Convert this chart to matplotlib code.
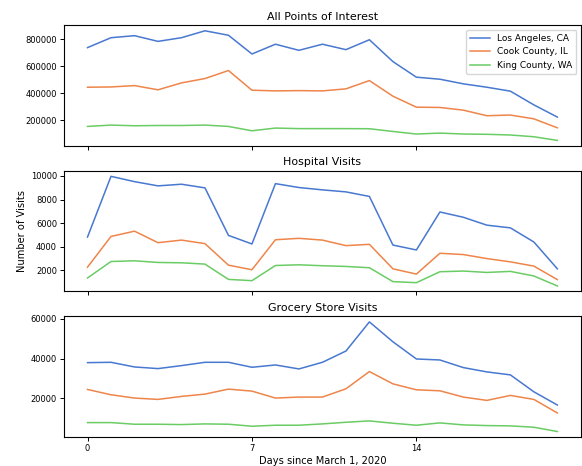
import numpy as np
import matplotlib
matplotlib.use("Agg")
import matplotlib.pyplot as plt
from matplotlib.ticker import MultipleLocator

days = list(range(21))
regions = ["Los Angeles, CA", "Cook County, IL", "King County, WA"]
colors = ["#4878d0", "#ee854a", "#6acc64"]

# all points of interest
poi_la = [737000, 810000, 825000, 783000, 810000, 861000, 828000, 690000, 762000, 717000, 762000,
          722000, 795000, 634000, 519000, 504000, 470000, 445000, 416000, 315000, 225000]
poi_cook = [445000, 447000, 457000, 426000, 477000, 509000, 568000, 423000, 418000, 420000, 418000,
            433000, 494000, 379000, 298000, 296000, 276000, 235000, 240000, 212000, 146000]
poi_king = [156000, 166000, 161000, 163000, 163000, 166000, 156000, 124000, 144000, 140000, 140000,
            140000, 139000, 119000, 100000, 107000, 100000, 98000, 93000, 80000, 53000]

# hospital visits
hosp_la = [4810, 9970, 9520, 9160, 9300, 8990, 4950, 4220, 9350, 9020, 8820,
           8650, 8260, 4130, 3710, 6940, 6490, 5820, 5590, 4390, 2110]
hosp_cook = [2250, 4860, 5310, 4330, 4550, 4250, 2420, 2030, 4580, 4700, 4550,
             4080, 4190, 2110, 1660, 3430, 3320, 2980, 2700, 2340, 1190]
hosp_king = [1330, 2730, 2790, 2650, 2620, 2510, 1210, 1100, 2390, 2450, 2370,
             2310, 2200, 1020, 930, 1860, 1920, 1800, 1890, 1500, 650]

# grocery store visits
groc_la = [38000, 38170, 35830, 35000, 36500, 38170, 38170, 35670, 36830, 34830, 38170,
           43840, 58500, 48500, 39840, 39340, 35500, 33340, 31840, 23330, 16670]
groc_cook = [24500, 21830, 20170, 19500, 21000, 22170, 24670, 23670, 20170, 20670, 20670,
             24830, 33500, 27330, 24330, 23830, 20670, 19000, 21500, 19500, 12670]
groc_king = [7830, 7830, 7000, 7000, 6830, 7170, 7000, 6000, 6500, 6500, 7170,
             8000, 8670, 7500, 6500, 7670, 6670, 6330, 6170, 5500, 3330]

panels = [
    ("All Points of Interest", [poi_la, poi_cook, poi_king], 200000),
    ("Hospital Visits", [hosp_la, hosp_cook, hosp_king], 2000),
    ("Grocery Store Visits", [groc_la, groc_cook, groc_king], 20000),
]

fig, axes = plt.subplots(3, 1, sharex=True, figsize=(5.82, 4.66), dpi=100)
fig.subplots_adjust(left=0.110, right=0.998, top=0.9457, bottom=0.0622, hspace=0.207)

for ax, (title, series, step) in zip(axes, panels):
    for vals, name, c in zip(series, regions, colors):
        ax.plot(days, vals, color=c, lw=1.1, label=name)
    ax.set_title(title, fontsize=7.9, pad=4)
    ax.yaxis.set_major_locator(MultipleLocator(step))
    ax.tick_params(labelsize=6, length=3, width=0.7, pad=2)
    for sp in ax.spines.values():
        sp.set_linewidth(0.8)

axes[0].legend(loc="upper right", fontsize=6.5, handlelength=2.2, borderpad=0.45)
axes[1].set_ylabel("Number of Visits", fontsize=7.1, labelpad=3)
axes[2].set_xticks([0, 7, 14])
axes[2].set_xlabel("Days since March 1, 2020", fontsize=7.1, labelpad=2)

fig.savefig("out.png", dpi=100)
